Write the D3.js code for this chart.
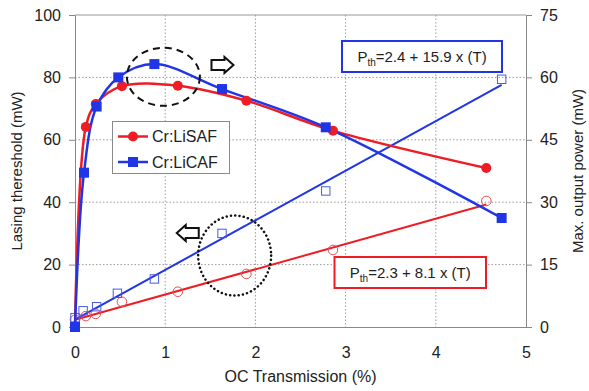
<!DOCTYPE html>
<html><head><meta charset="utf-8">
<script src="https://cdn.jsdelivr.net/npm/d3@7"></script>
<style>
body{margin:0;background:#fff;}
svg{display:block;font-family:"Liberation Sans",Arial,sans-serif;}
</style></head><body>
<svg id="c" width="589" height="391"></svg>
<script>
// Max. output power (right axis, mW)
const lisafT = [0, 0.12, 0.23, 0.52, 1.14, 1.90, 2.86, 4.56];
const lisafPower = [0, 48.1, 53.6, 57.9, 58.0, 54.4, 47.2, 38.2];
const licafT = [0, 0.10, 0.24, 0.48, 0.88, 1.63, 2.78, 4.73];
const licafPower = [0, 37.1, 53.0, 60.0, 63.2, 57.2, 48.0, 26.2];
// Lasing threshold (left axis, mW)
const lisafThrT = [0, 0.12, 0.23, 0.52, 1.14, 1.90, 2.86, 4.56];
const lisafThr = [2.3, 3.5, 4.2, 8.1, 11.3, 17.0, 24.7, 40.4];
const licafThrT = [0, 0.09, 0.24, 0.47, 0.88, 1.63, 2.78, 4.73];
const licafThr = [3.0, 5.2, 6.5, 10.8, 15.4, 30.0, 43.6, 79.4];
// Linear fits
const fitLisaf = {a: 2.3, b: 8.1, tMax: 4.56};
const fitLicaf = {a: 2.4, b: 15.9, tMax: 4.73};
const xTicks = [0, 1, 2, 3, 4, 5];
const yTicks = [0, 20, 40, 60, 80, 100];
const y2Ticks = [0, 15, 30, 45, 60, 75];
const seriesNames = ["Cr:LiSAF", "Cr:LiCAF"];

const RED = "#ee1c25", BLUE = "#1f35e6";
const svg = d3.select("#c");
const L = 75, R = 526, T = 15, B = 327;
const x = d3.scaleLinear().domain([0, 5]).range([L, R]);
const y = d3.scaleLinear().domain([0, 100]).range([B, T]);
const y2 = d3.scaleLinear().domain([0, 75]).range([B, T]);

// grid
const g = svg.append("g");
g.selectAll(".gx").data(xTicks.slice(1, -1)).join("line")
  .attr("x1", d => x(d)).attr("x2", d => x(d)).attr("y1", T).attr("y2", B)
  .attr("stroke", "#9a9a9a").attr("stroke-dasharray", "1.5,2");
g.selectAll(".gy").data(yTicks.slice(1, -1)).join("line")
  .attr("x1", L).attr("x2", R).attr("y1", d => y(d)).attr("y2", d => y(d))
  .attr("stroke", "#9a9a9a").attr("stroke-dasharray", "1.5,2");
g.append("line").attr("x1", L).attr("x2", R).attr("y1", T).attr("y2", T).attr("stroke", "#999");

// axes
const axL = svg.append("g").attr("transform", `translate(${L},0)`)
  .call(d3.axisLeft(y).tickValues(yTicks).tickSize(6).tickPadding(8));
const axR = svg.append("g").attr("transform", `translate(${R},0)`)
  .call(d3.axisRight(y2).tickValues(y2Ticks).tickSize(6).tickPadding(8));
const axB = svg.append("g").attr("transform", `translate(0,${B})`)
  .call(d3.axisBottom(x).tickValues(xTicks).tickFormat(d3.format("d")).tickSize(0).tickPadding(20));
[axL, axR, axB].forEach(a => {
  a.selectAll("path.domain").attr("stroke", "#888");
  a.selectAll(".tick line").attr("stroke", "#888");
  a.selectAll("text").attr("font-size", 16).attr("fill", "#222")
    .attr("font-family", "'Liberation Sans',Arial,sans-serif");
});

// axis titles
svg.append("text").attr("transform", `translate(22,${(T + B) / 2}) rotate(-90)`)
  .attr("text-anchor", "middle").attr("font-size", 15).attr("fill", "#222")
  .text("Lasing thereshold (mW)");
svg.append("text").attr("transform", `translate(583,${(T + B) / 2}) rotate(-90)`)
  .attr("text-anchor", "middle").attr("font-size", 15).attr("fill", "#222")
  .text("Max. output power (mW)");
svg.append("text").attr("x", (L + R) / 2).attr("y", 382)
  .attr("text-anchor", "middle").attr("font-size", 16).attr("fill", "#222")
  .text("OC Transmission (%)");

// fit lines
const fitLine = (f, color) => svg.append("line")
  .attr("x1", x(0)).attr("y1", y(f.a))
  .attr("x2", x(f.tMax)).attr("y2", y(f.a + f.b * f.tMax))
  .attr("stroke", color).attr("stroke-width", 2);
fitLine(fitLisaf, RED);
fitLine(fitLicaf, BLUE);

// open markers (threshold)
svg.append("g").selectAll("circle").data(lisafThrT.map((t, i) => [t, lisafThr[i]])).join("circle")
  .attr("cx", d => x(d[0])).attr("cy", d => y(d[1])).attr("r", 4.8)
  .attr("fill", "none").attr("stroke", "#e0505a").attr("stroke-width", 1);
svg.append("g").selectAll("rect").data(licafThrT.map((t, i) => [t, licafThr[i]])).join("rect")
  .attr("x", d => x(d[0]) - 4.2).attr("y", d => y(d[1]) - 4.2).attr("width", 8.4).attr("height", 8.4)
  .attr("fill", "none").attr("stroke", "#4a5ae0").attr("stroke-width", 1);

// power curves
const curve = d3.line().x(d => x(d[0])).y(d => y2(d[1])).curve(d3.curveCatmullRom.alpha(0.5));
const lisafPts = lisafT.map((t, i) => [t, lisafPower[i]]);
const licafPts = licafT.map((t, i) => [t, licafPower[i]]);
svg.append("path").datum(lisafPts).attr("d", curve).attr("fill", "none").attr("stroke", RED).attr("stroke-width", 2.5);
svg.append("path").datum(licafPts).attr("d", curve).attr("fill", "none").attr("stroke", BLUE).attr("stroke-width", 2.5);
svg.append("g").selectAll("circle").data(lisafPts).join("circle")
  .attr("cx", d => x(d[0])).attr("cy", d => y2(d[1])).attr("r", 5).attr("fill", RED);
svg.append("g").selectAll("rect").data(licafPts).join("rect")
  .attr("x", d => x(d[0]) - 5).attr("y", d => y2(d[1]) - 5).attr("width", 10).attr("height", 10).attr("fill", BLUE);

// legend
const lg = svg.append("g");
lg.append("rect").attr("x", 112.5).attr("y", 121.5).attr("width", 117).attr("height", 52)
  .attr("fill", "#fff").attr("stroke", "#8a8a8a").attr("stroke-width", 1);
[[RED, 136.5, "c"], [BLUE, 162, "s"]].forEach((s, i) => {
  lg.append("line").attr("x1", 118).attr("x2", 148).attr("y1", s[1]).attr("y2", s[1]).attr("stroke", s[0]).attr("stroke-width", 2.5);
  if (s[2] === "c") lg.append("circle").attr("cx", 133).attr("cy", s[1]).attr("r", 5).attr("fill", s[0]);
  else lg.append("rect").attr("x", 128).attr("y", s[1] - 5).attr("width", 10).attr("height", 10).attr("fill", s[0]);
  lg.append("text").attr("x", 152).attr("y", s[1] + 5.5).attr("font-size", 16).attr("fill", "#222").text(seriesNames[i]);
});

// equation boxes
function eqBox(bx, by, bw, bh, color, rest) {
  svg.append("rect").attr("x", bx).attr("y", by).attr("width", bw).attr("height", bh)
    .attr("fill", "#fff").attr("stroke", color).attr("stroke-width", 2);
  const t = svg.append("text").attr("x", bx + bw / 2).attr("y", by + bh / 2 + 5)
    .attr("text-anchor", "middle").attr("font-size", 15).attr("fill", "#222");
  t.append("tspan").text("P");
  t.append("tspan").attr("font-size", 10).attr("dy", 4).text("th");
  t.append("tspan").attr("dy", -4).text(rest);
}
eqBox(342, 41, 160, 31, BLUE, "=2.4 + 15.9 x (T)");
eqBox(334.5, 257, 151.5, 31, RED, "=2.3 + 8.1 x (T)");

// annotation ellipses
svg.append("ellipse").attr("cx", x(0.98)).attr("cy", y(80.2)).attr("rx", 36.5).attr("ry", 29)
  .attr("fill", "none").attr("stroke", "#111").attr("stroke-width", 2).attr("stroke-dasharray", "7,5");
svg.append("ellipse").attr("cx", x(1.77)).attr("cy", y(22.9)).attr("rx", 36.5).attr("ry", 40)
  .attr("fill", "none").attr("stroke", "#111").attr("stroke-width", 2.5).attr("stroke-dasharray", "0.1,4.2").attr("stroke-linecap", "round");

// hollow arrows
function arrow(cx, cy, dir) {
  const w = 22, h = 16, hw = 9, sh = 5;
  const pts = [[-w/2, -sh], [w/2 - hw, -sh], [w/2 - hw, -h/2], [w/2, 0], [w/2 - hw, h/2], [w/2 - hw, sh], [-w/2, sh]]
    .map(p => [cx + dir * p[0], cy + p[1]]);
  svg.append("polygon").attr("points", pts.map(p => p.join(",")).join(" "))
    .attr("fill", "#fff").attr("stroke", "#111").attr("stroke-width", 2);
}
arrow(x(1.635), y(84), 1);
arrow(x(1.25), y(30.1), -1);
</script>
</body></html>
